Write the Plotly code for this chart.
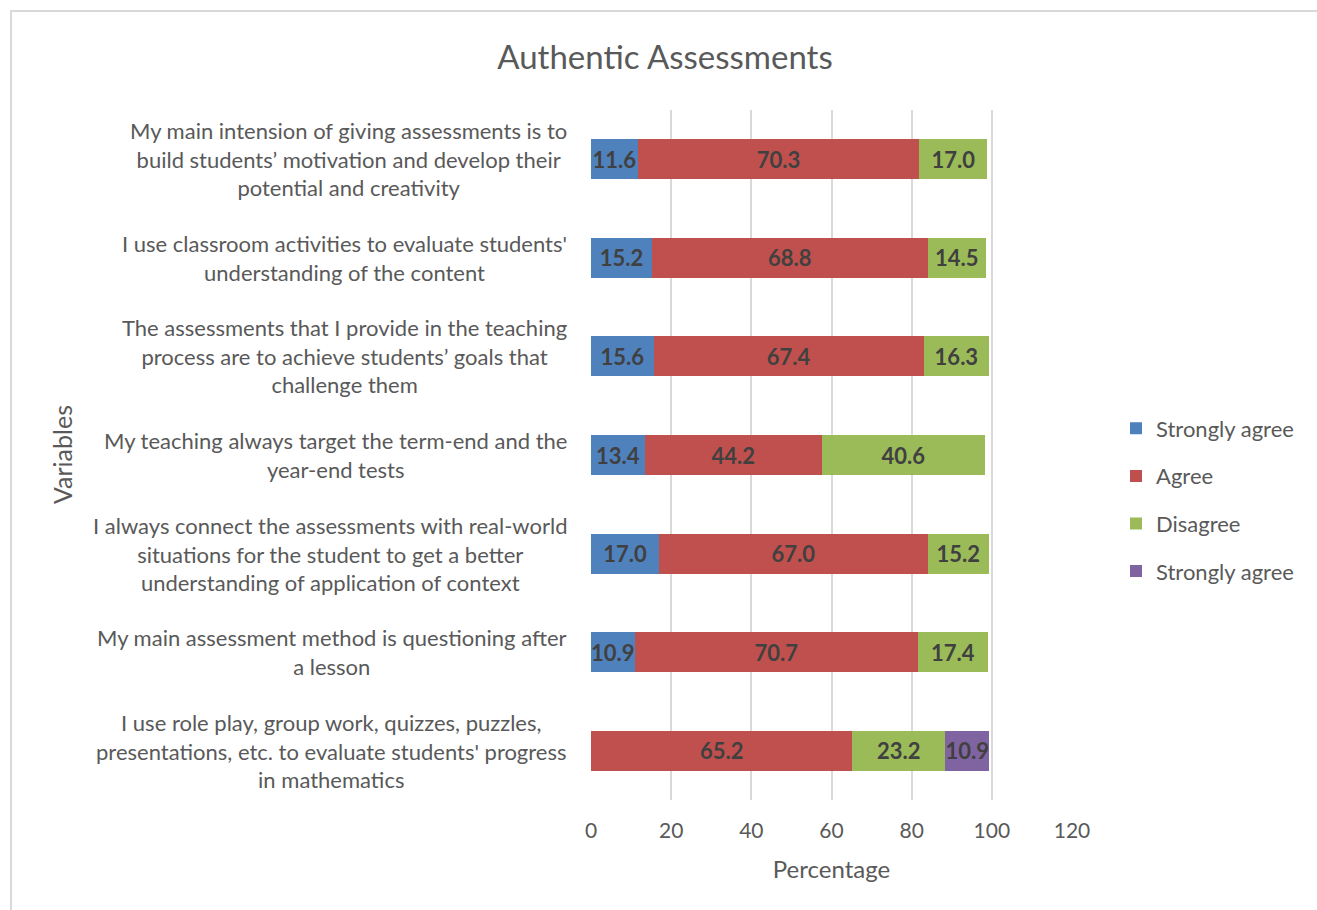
import plotly.graph_objects as go

categories = [
    "My main intension of giving assessments is to<br>build students’ motivation and develop their<br>potential and creativity",
    "I use classroom activities to evaluate students'<br>understanding of the content",
    "The assessments that I provide in the teaching<br>process are to achieve students’ goals that<br>challenge them",
    "My teaching always target the term-end and the<br>year-end tests",
    "I always connect the assessments with real-world<br>situations for the student to get a better<br>understanding of application of context",
    "My main assessment method is questioning after<br>a lesson",
    "I use role play, group work, quizzes, puzzles,<br>presentations, etc. to evaluate students' progress<br>in mathematics",
]
series_names = ["Strongly agree", "Agree", "Disagree", "Strongly agree"]
strongly_agree = [11.6, 15.2, 15.6, 13.4, 17.0, 10.9, None]
agree = [70.3, 68.8, 67.4, 44.2, 67.0, 70.7, 65.2]
disagree = [17.0, 14.5, 16.3, 40.6, 15.2, 17.4, 23.2]
strongly_agree_2 = [None, None, None, None, None, None, 10.9]
x_ticks = [0, 20, 40, 60, 80, 100, 120]

colors = ["#4F81BD", "#C0504D", "#9BBB59", "#8064A2"]
FONT = "Lato"

W, H = 1317, 910
L, R, T, B = 591, 245, 110, 110
pw, ph = W - L - R, H - T - B

def px_x(p):
    return (p - L) / pw

def px_y(p):
    return (H - B - p) / ph

fig = go.Figure()
for i, (name, vals) in enumerate(zip(series_names, [strongly_agree, agree, disagree, strongly_agree_2])):
    fig.add_trace(go.Bar(
        y=categories, x=vals, name=name, orientation="h",
        marker=dict(color=colors[i], line=dict(width=0)),
        texttemplate="%{x:.1f}", textposition="inside", insidetextanchor="middle",
        constraintext="none",
        textfont=dict(family=FONT, size=22, color="#404040", weight="bold"),
        legendgroup="g%d" % i,
    ))

annotations = []
for c in categories:
    annotations.append(dict(
        x=px_x(569), xref="paper", y=c, yref="y", text=c, showarrow=False,
        xanchor="right", yanchor="middle", align="center",
        font=dict(family=FONT, size=22, color="#595959"),
    ))
annotations.append(dict(
    x=px_x(62), xref="paper", y=px_y(455), yref="paper", text="Variables",
    textangle=-90, showarrow=False, xanchor="center", yanchor="middle",
    font=dict(family=FONT, size=25, color="#595959"),
))

fig.update_layout(
    width=W, height=H,
    margin=dict(l=L, r=R, t=T, b=B),
    paper_bgcolor="white", plot_bgcolor="white",
    barmode="stack", bargap=0.593,
    title=dict(text="Authentic Assessments", x=665 / W, xref="container", xanchor="center",
               y=1 - 57 / H, yanchor="middle",
               font=dict(family=FONT, size=33, color="#595959")),
    xaxis=dict(range=[0, 120], tickvals=x_ticks, showgrid=True, gridcolor="#D9D9D9",
               gridwidth=2, zeroline=False, showline=False, ticks="",
               ticklabelstandoff=16,
               tickfont=dict(family=FONT, size=21, color="#595959"),
               title=dict(text="Percentage", standoff=20,
                          font=dict(family=FONT, size=24, color="#595959"))),
    yaxis=dict(categoryorder="array", categoryarray=categories[::-1],
               showticklabels=False, showgrid=False, zeroline=False, ticks=""),
    legend=dict(x=px_x(1116), xanchor="left", y=px_y(500), yanchor="middle",
                traceorder="grouped", tracegroupgap=16,
                font=dict(family=FONT, size=22, color="#595959")),
    annotations=annotations,
    shapes=[dict(type="rect", xref="paper", yref="paper",
                 x0=px_x(11), x1=px_x(1340), y0=px_y(930), y1=px_y(11),
                 line=dict(color="#D9D9D9", width=2), fillcolor="rgba(0,0,0,0)",
                 layer="below")],
)

fig.write_html("out.html")
